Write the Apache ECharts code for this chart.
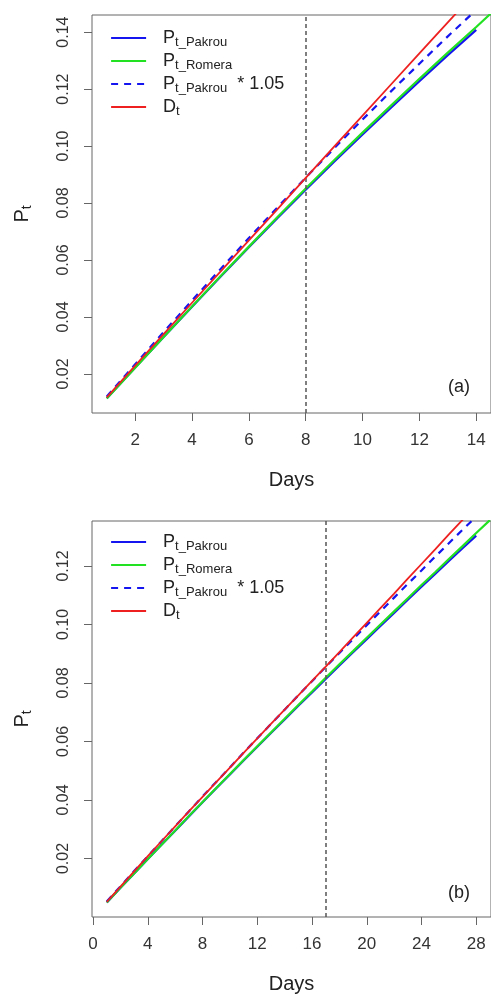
<!DOCTYPE html>
<html>
<head>
<meta charset="utf-8">
<script src="https://cdn.jsdelivr.net/npm/echarts@6/dist/echarts.min.js"></script>
<style>html,body{margin:0;padding:0;background:#fff}#c{width:491px;height:995px}</style>
</head>
<body>
<div id="c"></div>
<script>
// ---- Data: panel (a) ----
const daysA = [1,2,3,4,5,6,7,8,9,10,11,12,13,14];
const daysA_Romera = [1,2,3,4,5,6,7,8,9,10,11,12,13,14,15];
const pakrouA = [0.0115,0.0223,0.0330,0.0436,0.0541,0.0645,0.0747,0.0847,0.0945,0.1041,0.1135,0.1228,0.1319,0.1408];
const romeraA = [0.0114,0.0222,0.0330,0.0437,0.0543,0.0647,0.0750,0.0851,0.0950,0.1047,0.1142,0.1236,0.1328,0.1418,0.1510];
const pakrou105A = [0.0121,0.0234,0.0347,0.0458,0.0568,0.0677,0.0784,0.0889,0.0992,0.1093,0.1192,0.1289,0.1385,0.1478];
const dtA = [0.0118,0.0229,0.0340,0.0450,0.0559,0.0669,0.0778,0.0888,0.0998,0.1107,0.1216,0.1325,0.1434,0.1543];
const vlineA = 8;
const xTicksA = [2,4,6,8,10,12,14];
const yTicksA = [0.02,0.04,0.06,0.08,0.10,0.12,0.14];

// ---- Data: panel (b) ----
const daysB = [1,2,3,4,5,6,7,8,9,10,11,12,13,14,15,16,17,18,19,20,21,22,23,24,25,26,27,28];
const daysB_Romera = [1,2,3,4,5,6,7,8,9,10,11,12,13,14,15,16,17,18,19,20,21,22,23,24,25,26,27,28,29];
const pakrouB = [0.0050,0.0100,0.0149,0.0198,0.0247,0.0295,0.0344,0.0392,0.0440,0.0487,0.0535,0.0582,0.0629,0.0675,0.0722,0.0768,0.0814,0.0860,0.0905,0.0950,0.0995,0.1040,0.1085,0.1129,0.1173,0.1217,0.1261,0.1304];
const romeraB = [0.0050,0.0100,0.0149,0.0198,0.0247,0.0296,0.0345,0.0393,0.0441,0.0489,0.0537,0.0584,0.0631,0.0678,0.0725,0.0771,0.0818,0.0864,0.0909,0.0955,0.1000,0.1045,0.1090,0.1135,0.1179,0.1224,0.1268,0.1313,0.1357];
const pakrou105B = [0.0053,0.0105,0.0157,0.0208,0.0259,0.0310,0.0361,0.0412,0.0462,0.0511,0.0562,0.0611,0.0660,0.0709,0.0758,0.0806,0.0855,0.0903,0.0950,0.0998,0.1045,0.1092,0.1139,0.1185,0.1232,0.1278,0.1324,0.1369];
const dtB = [0.0052,0.0104,0.0156,0.0208,0.0259,0.0310,0.0361,0.0411,0.0461,0.0511,0.0561,0.0611,0.0660,0.0709,0.0758,0.0807,0.0856,0.0906,0.0956,0.1006,0.1056,0.1106,0.1157,0.1207,0.1257,0.1308,0.1358,0.1409];
const vlineB = 17;
const xTicksB = [0,4,8,12,16,20,24,28];
const yTicksB = [0.02,0.04,0.06,0.08,0.10,0.12];

const names = ['Pakrou','Romera','Pakrou105','Dt'];
const FONT = 'Liberation Sans, Arial, sans-serif';
const zip = (xs, ys) => ys.map((y, i) => [xs[i], y]);

const chart = echarts.init(document.getElementById('c'), null, {renderer: 'canvas'});

function xAxisCfg(gi, min, max, ticks) {
  return {
    gridIndex: gi, type: 'value', min: min, max: max,
    name: 'Days', nameLocation: 'middle', nameGap: 57,
    nameTextStyle: {fontSize: 20, color: '#222', fontFamily: FONT},
    axisLine: {show: false, onZero: false},
    axisTick: {show: true, length: 8, customValues: ticks, lineStyle: {color: '#666', width: 1}},
    axisLabel: {customValues: ticks, margin: 19, fontSize: 17, color: '#333', fontFamily: FONT},
    splitLine: {show: false}
  };
}
function yAxisCfg(gi, min, max, ticks) {
  return {
    gridIndex: gi, type: 'value', min: min, max: max,
    name: '{p|P}{s|t}', nameLocation: 'middle', nameGap: 58, nameRotate: 90,
    nameTextStyle: {
      color: '#222', fontFamily: FONT,
      rich: {
        p: {fontSize: 20, lineHeight: 24, color: '#222', fontFamily: FONT},
        s: {fontSize: 14, lineHeight: 14, verticalAlign: 'bottom', color: '#222', fontFamily: FONT}
      }
    },
    axisLine: {show: false, onZero: false},
    axisTick: {show: true, length: 8, customValues: ticks, lineStyle: {color: '#666', width: 1}},
    axisLabel: {customValues: ticks, margin: 20, rotate: 90, fontSize: 16, color: '#333', fontFamily: FONT,
      formatter: v => v.toFixed(2)},
    splitLine: {show: false}
  };
}
function seriesFor(gi, dx, dxr, p, r, p105, dt, vline) {
  const base = {type: 'line', xAxisIndex: gi, yAxisIndex: gi, symbol: 'none', clip: true, silent: true};
  return [
    Object.assign({}, base, {name: 'Pakrou', data: zip(dx, p), lineStyle: {color: '#1515f0', width: 2.2}, itemStyle: {color: '#1515f0'}, z: 2,
      markLine: {silent: true, symbol: 'none', label: {show: false},
        lineStyle: {type: [4, 3], color: '#555', width: 1.5}, data: [{xAxis: vline}]}}),
    Object.assign({}, base, {name: 'Romera', data: zip(dxr, r), lineStyle: {color: '#22e022', width: 2.2}, itemStyle: {color: '#22e022'}, z: 3}),
    Object.assign({}, base, {name: 'Pakrou105', data: zip(dx, p105), lineStyle: {color: '#1515f0', width: 2.2, type: [7, 6]}, itemStyle: {color: '#1515f0'}, z: 4}),
    Object.assign({}, base, {name: 'Dt', data: zip(dx, dt), lineStyle: {color: '#ee2020', width: 1.8}, itemStyle: {color: '#ee2020'}, z: 5})
  ];
}
const legendLabels = {
  Pakrou: '{g|}{p|P}{s|t_Pakrou}',
  Romera: '{g|}{p|P}{s|t_Romera}',
  Pakrou105: '{g|}{p|P}{s|t_Pakrou}{p|  * 1.05}',
  Dt: '{g|}{p|D}{s|t}'
};
function legendCfg(top) {
  return {
    data: names, orient: 'vertical', left: 110, top: top, padding: 0,
    itemWidth: 35, itemHeight: 14, itemGap: 3, selectedMode: false,
    itemStyle: {opacity: 0, borderWidth: 0},
    lineStyle: {width: 2.2},
    formatter: n => legendLabels[n],
    textStyle: {
      color: '#222', fontFamily: FONT,
      rich: {
        g: {width: 12},
        p: {fontSize: 18, lineHeight: 22, color: '#222', fontFamily: FONT},
        s: {fontSize: 13, lineHeight: 13, verticalAlign: 'bottom', color: '#222', fontFamily: FONT}
      }
    }
  };
}

const option = {
  animation: false,
  backgroundColor: '#fff',
  grid: [
    {left: 92, top: 15, width: 400, height: 398, show: true, borderColor: '#666', borderWidth: 1, backgroundColor: 'transparent'},
    {left: 92, top: 521, width: 400, height: 397, show: true, borderColor: '#666', borderWidth: 1, backgroundColor: 'transparent'}
  ],
  xAxis: [xAxisCfg(0, 0.48, 14.52, xTicksA), xAxisCfg(1, -0.08, 29.08, xTicksB)],
  yAxis: [yAxisCfg(0, 0.0063, 0.146, yTicksA), yAxisCfg(1, 0.0, 0.1354, yTicksB)],
  legend: [legendCfg(29), legendCfg(533)],
  graphic: [
    {type: 'text', x: 448, y: 378, style: {text: '(a)', font: '18px ' + FONT, fill: '#222'}},
    {type: 'text', x: 448, y: 884, style: {text: '(b)', font: '18px ' + FONT, fill: '#222'}}
  ],
  series: [].concat(
    seriesFor(0, daysA, daysA_Romera, pakrouA, romeraA, pakrou105A, dtA, vlineA),
    seriesFor(1, daysB, daysB_Romera, pakrouB, romeraB, pakrou105B, dtB, vlineB)
  )
};
chart.setOption(option);
</script>
</body>
</html>
